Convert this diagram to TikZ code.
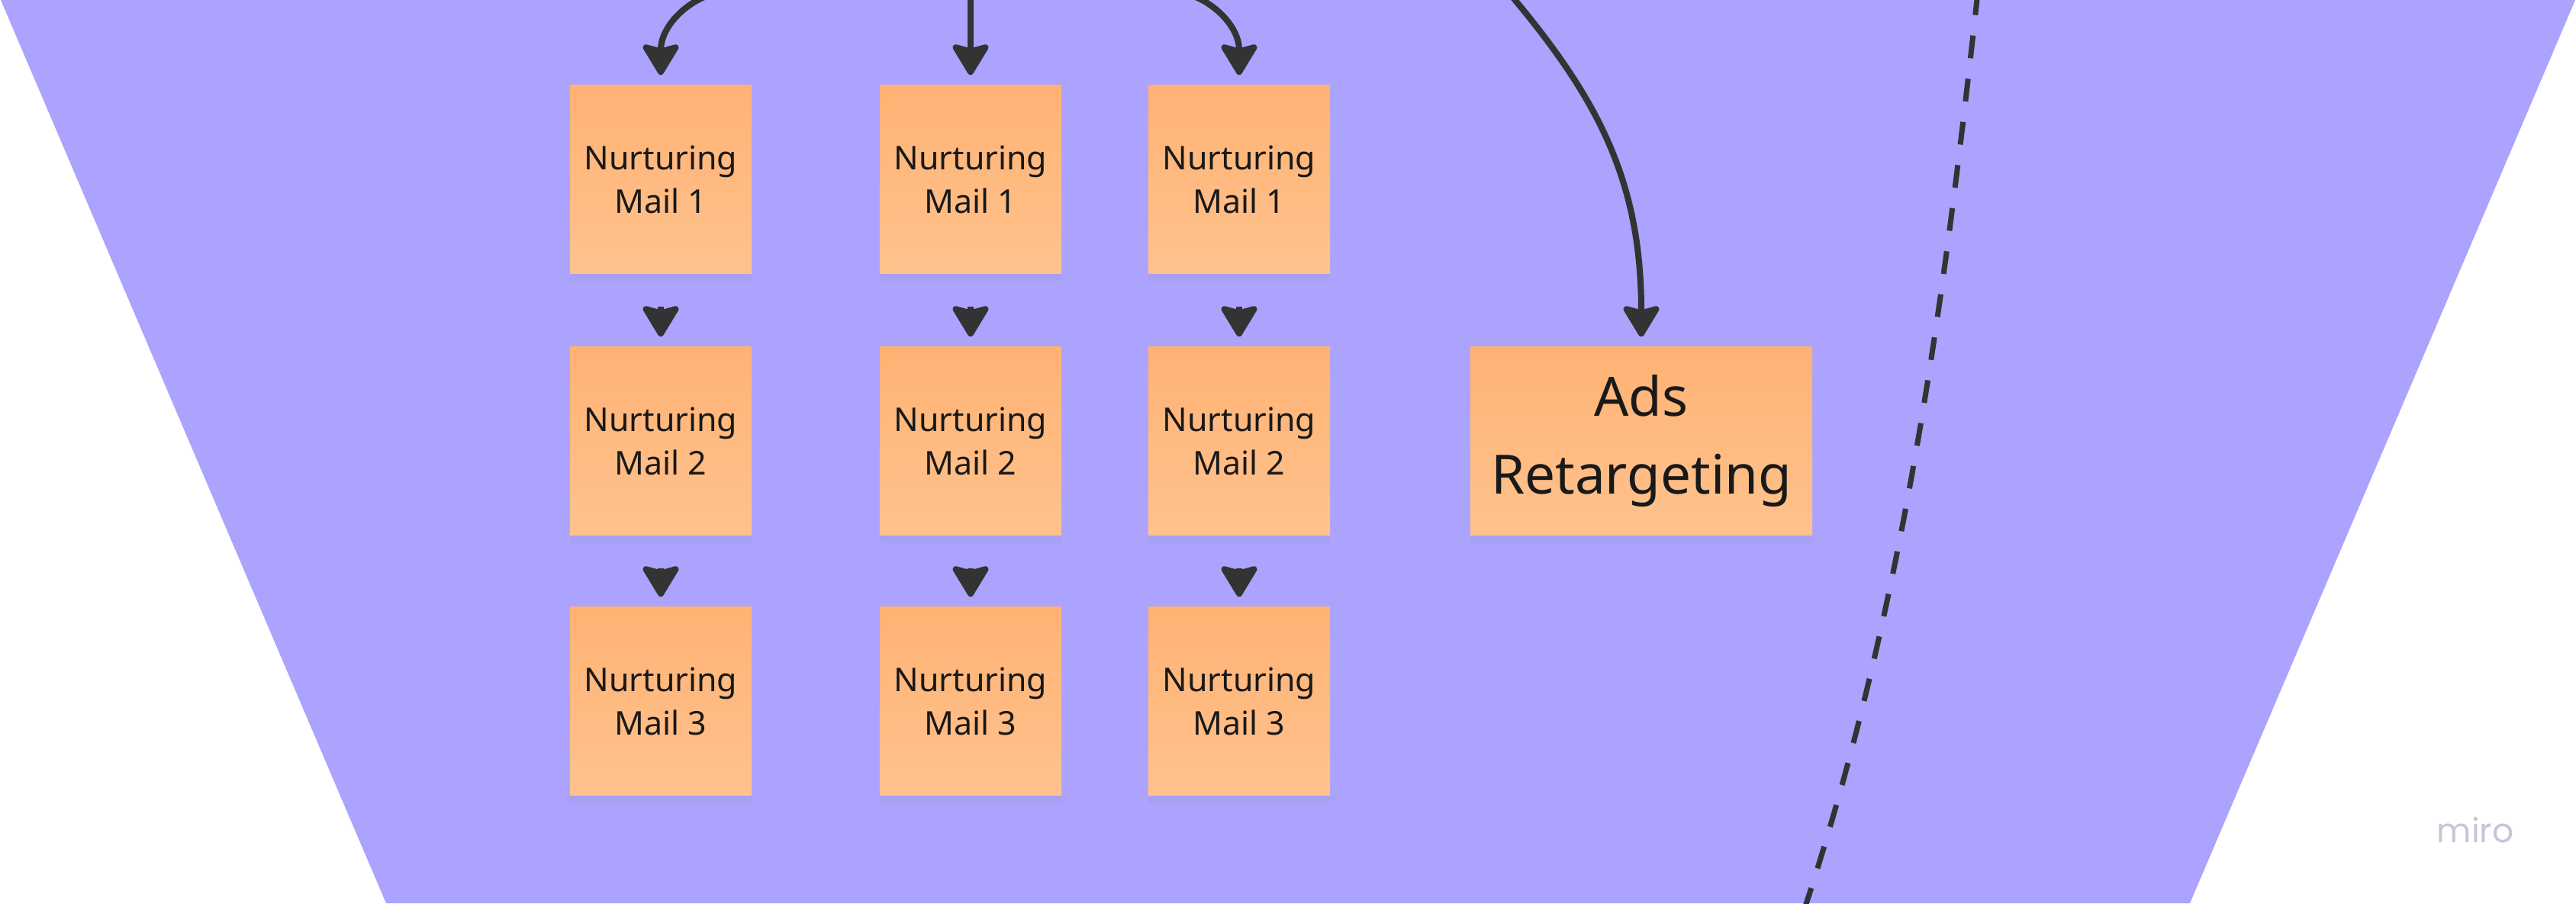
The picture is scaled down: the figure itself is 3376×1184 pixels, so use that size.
\documentclass[tikz,border=0pt]{standalone}
\usepackage{fontspec}
\setmainfont{Noto Sans}
\newfontfamily\logofont{Poppins}
\usetikzlibrary{
		arrows.meta,
		shadows
	}
\definecolor{funnel}{RGB}{171,163,253}
\definecolor{stickytop}{RGB}{255,178,116}
\definecolor{stickybot}{RGB}{255,194,141}
\definecolor{inkdark}{RGB}{51,51,51}
\definecolor{logogray}{RGB}{200,197,216}
\newcommand{\ltext}{black!90}
\tikzset{
		>={Stealth[length=13pt,width=15.5pt,inset=2pt,round]},
		stickynote/.style={rectangle, inner sep=0pt, minimum width=2.38cm, minimum height=2.46cm,
			top color=stickytop, bottom color=stickybot, align=center, text=\ltext,
			font=\fontsize{12.2}{16.2}\selectfont,
			drop shadow={shadow xshift=0pt, shadow yshift=-3pt, opacity=0.08}},
		bigsticky/.style={stickynote, minimum width=4.48cm, font=\fontsize{20.2}{28.8}\selectfont},
		flowarrow/.style={->, draw=inkdark, line width=2.3pt, shorten >=0.13cm},
		dashline/.style={draw=inkdark, line width=2pt, dash pattern=on 8.5pt off 7.7pt}
	}

\begin{document}
\begin{tikzpicture}[x=0.01cm, y=-0.01cm]
		\useasboundingbox (0,0) rectangle (3376,1184);
		\fill[white] (0,0) rectangle (3376,1184);
		\fill[funnel] (1,0) -- (3375,0) -- (2870,1184) -- (506,1184) -- cycle;
		% dashed border
		\draw[dashline] (2592,-10) .. controls (2548,390) and (2496,794) .. (2364,1194);
		% nurturing mails
		\node[stickynote] (m11) at (866,235) {Nurturing\\Mail 1};
		\node[stickynote] (m12) at (866,578) {Nurturing\\Mail 2};
		\node[stickynote] (m13) at (866,919) {Nurturing\\Mail 3};
		\node[stickynote] (m21) at (1272,235) {Nurturing\\Mail 1};
		\node[stickynote] (m22) at (1272,578) {Nurturing\\Mail 2};
		\node[stickynote] (m23) at (1272,919) {Nurturing\\Mail 3};
		\node[stickynote] (m31) at (1624,235) {Nurturing\\Mail 1};
		\node[stickynote] (m32) at (1624,578) {Nurturing\\Mail 2};
		\node[stickynote] (m33) at (1624,919) {Nurturing\\Mail 3};
		\node[bigsticky] (ads) at (2151,578) {Ads\\Retargeting};
		% incoming ends
		\coordinate (in1) at (960,-12);
		\coordinate (in2) at (1272,-12);
		\coordinate (in3) at (1530,-12);
		\coordinate (in4) at (1960,-30);
		\draw[flowarrow] (in1) .. controls (912,-12) and (866,30) .. (m11.north);
		\draw[flowarrow] (in2) -- (m21.north);
		\draw[flowarrow] (in3) .. controls (1578,-12) and (1624,30) .. (m31.north);
		\draw[flowarrow] (in4) .. controls (2090,120) and (2151,230) .. (ads.north);
		% mail chains
		\draw[flowarrow, shorten <=0.43cm] (m11.south) -- (m12.north);
		\draw[flowarrow, shorten <=0.43cm] (m12.south) -- (m13.north);
		\draw[flowarrow, shorten <=0.43cm] (m21.south) -- (m22.north);
		\draw[flowarrow, shorten <=0.43cm] (m22.south) -- (m23.north);
		\draw[flowarrow, shorten <=0.43cm] (m31.south) -- (m32.north);
		\draw[flowarrow, shorten <=0.43cm] (m32.south) -- (m33.north);
		\node[text=logogray, font=\logofont\fontsize{12.5}{15}\selectfont, anchor=base] (logo) at (3244,1104) {miro};
	\end{tikzpicture}
\end{document}
